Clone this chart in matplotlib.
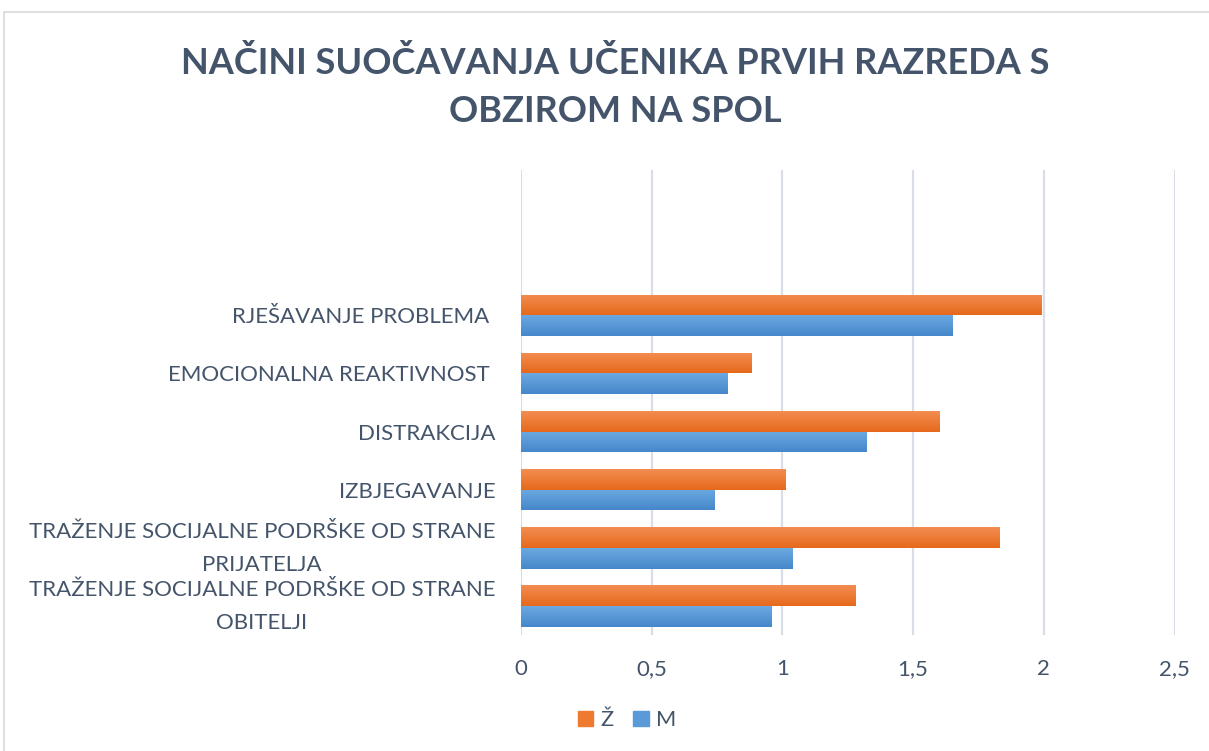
import matplotlib
matplotlib.use("Agg")
import matplotlib.pyplot as plt
import matplotlib.transforms as mtransforms
import numpy as np
from matplotlib.patches import Rectangle
from matplotlib.colors import LinearSegmentedColormap

categories = [
    "TRAŽENJE SOCIJALNE PODRŠKE OD STRANE\nOBITELJI",
    "TRAŽENJE SOCIJALNE PODRŠKE OD STRANE\nPRIJATELJA",
    "IZBJEGAVANJE",
    "DISTRAKCIJA",
    "EMOCIONALNA REAKTIVNOST ",
    "RJEŠAVANJE PROBLEMA ",
]
zenske = [1.28, 1.83, 1.01, 1.60, 0.88, 1.99]
muski = [0.96, 1.04, 0.74, 1.32, 0.79, 1.65]
series_names = ["Ž", "M"]
xticks = [0, 0.5, 1, 1.5, 2, 2.5]
xticklabels = ["0", "0,5", "1", "1,5", "2", "2,5"]
title = "NAČINI SUOČAVANJA UČENIKA PRVIH RAZREDA S\nOBZIROM NA SPOL"

TXT = "#44546A"
FONT = ["Lato", "DejaVu Sans"]
plt.rcParams["font.family"] = FONT

W, H = 1209, 751
fig = plt.figure(figsize=(W / 100, H / 100), dpi=100)
ax = fig.add_axes([521 / W, 1 - 635 / H, (1174.5 - 521) / W, (635 - 170) / H])

y = np.arange(len(categories))
h = 0.357
bz = ax.barh(y + h / 2, zenske, height=h, color="#EE7A2F", label=series_names[0], zorder=3)
bm = ax.barh(y - h / 2, muski, height=h, color="#5A9AD8", label=series_names[1], zorder=3)

cm_o = LinearSegmentedColormap.from_list("o", ["#E6691B", "#F38D52"])
cm_b = LinearSegmentedColormap.from_list("b", ["#4587CB", "#6CA9E1"])
grad = np.linspace(0, 1, 64).reshape(-1, 1)
for bars, cm in ((bz, cm_o), (bm, cm_b)):
    for p in bars:
        x0, y0 = p.get_x(), p.get_y()
        w, hh = p.get_width(), p.get_height()
        im = ax.imshow(grad, cmap=cm, extent=[x0, x0 + w, y0, y0 + hh],
                       origin="lower", aspect="auto", zorder=4, interpolation="bilinear")
        im.set_clip_path(p)

ax.set_xlim(0, 2.5)
ax.set_ylim(-0.5, 7.5)
ax.set_xticks(xticks)
ax.set_xticklabels(xticklabels)
ax.set_yticks(y)
ax.set_yticklabels(categories, multialignment="center", linespacing=1.82)
ax.tick_params(axis="both", length=0, colors=TXT, labelsize=16)
ax.tick_params(axis="y", pad=18.5)
ax.tick_params(axis="x", pad=17)
for s in ax.spines.values():
    s.set_visible(False)
ax.grid(axis="x", color="#D9DEE6", linewidth=1.6, zorder=0)
ax.set_axisbelow(True)

shift = mtransforms.ScaledTranslation(0, 0.08, fig.dpi_scale_trans)
for lab in ax.get_yticklabels():
    if "\n" in lab.get_text():
        lab.set_transform(lab.get_transform() + shift)

fig.text(615 / W, 1 - 87 / H, title, ha="center", va="center", fontsize=26,
         fontweight="bold", color=TXT, linespacing=1.56)

fig.add_artist(Rectangle((4 / W, -0.05), 1.1, 1.05 - 12 / H, transform=fig.transFigure,
                         fill=False, edgecolor="#D9D9D9", linewidth=1.2))

handles = [Rectangle((0, 0), 1, 1, color="#EE7A2F"), Rectangle((0, 0), 1, 1, color="#5A9AD8")]
fig.legend(handles, series_names, loc="center", bbox_to_anchor=(627 / W, 1 - 720 / H),
           ncol=2, frameon=False, fontsize=15.7, labelcolor=TXT, handlelength=0.7,
           handleheight=0.7, handletextpad=0.35, columnspacing=0.9)

fig.savefig("out.png", dpi=100)
